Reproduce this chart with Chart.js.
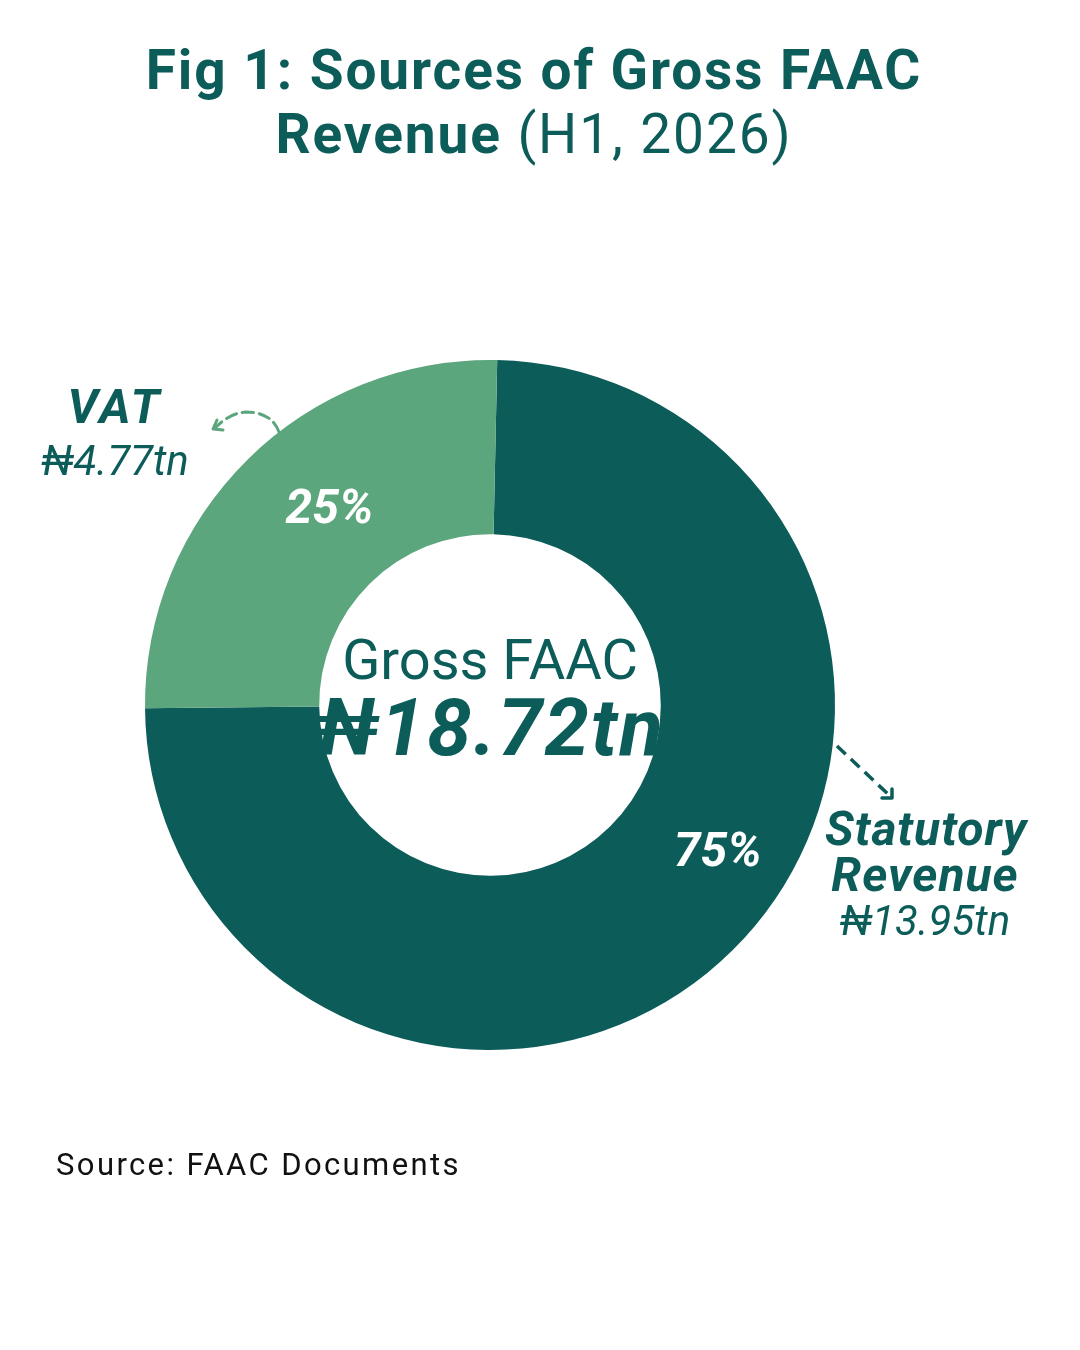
<!DOCTYPE html>
<html>
<head>
<meta charset="utf-8">
<script src="https://cdn.jsdelivr.net/npm/chart.js@4.4.1/dist/chart.umd.min.js"></script>
<style>
  html, body { margin: 0; padding: 0; background: #fff; }
  #page { position: relative; width: 1080px; height: 1350px; overflow: hidden; font-family: Roboto, "DejaVu Sans", sans-serif; color: #0c5c5a; }
  #chartCanvas { position: absolute; left: 0; top: 0; }
  .txt { position: absolute; white-space: nowrap; text-align: center; }
  #title { left: 0; width: 1068px; top: 38px; font-size: 55px; line-height: 64px; font-weight: 700; letter-spacing: 1.9px; }
  #title .light { font-weight: 400; }
  #center { left: 290px; width: 400px; top: 627px; }
  #centerLabel { font-size: 56px; line-height: 66px; font-weight: 400; }
  #centerValue { font-size: 80px; line-height: 70px; font-weight: 700; font-style: italic; letter-spacing: 2px; }
  #vatLabel { left: 15px; width: 200px; top: 384px; }
  #statLabel { left: 825px; width: 200px; top: 806px; }
  .name { font-size: 48px; line-height: 46px; font-weight: 700; font-style: italic; letter-spacing: 1px; }
  #vatLabel .name { letter-spacing: 3px; }
  .amount { font-size: 42px; line-height: 46px; font-weight: 400; font-style: italic; }
  #vatLabel .amount { margin-top: 8px; }
  #source { left: 56px; top: 1146px; font-size: 31px; color: #111; text-align: left; letter-spacing: 2.4px; }
  #arrows { position: absolute; left: 0; top: 0; }
</style>
</head>
<body>
<div id="page">
  <canvas id="chartCanvas" width="1080" height="1350"></canvas>
  <svg id="arrows" width="1080" height="1350">
    <path d="M279,432 C274,418 262,412 246,412 C233,413 224,419 215,428" fill="none" stroke="#5ca67e" stroke-width="3" stroke-dasharray="11,6" stroke-linecap="round"/>
    <path d="M223,430 L213,429 L217,420" fill="none" stroke="#5ca67e" stroke-width="3" stroke-linecap="round" stroke-linejoin="round"/>
    <path d="M837,746 L890,796" fill="none" stroke="#0c5c5a" stroke-width="3.5" stroke-dasharray="12,7"/>
    <path d="M882,798 L892,798 L892,789" fill="none" stroke="#0c5c5a" stroke-width="3.5" stroke-linecap="round" stroke-linejoin="round"/>
  </svg>
  <div id="title" class="txt">Fig 1: Sources of Gross FAAC<br>Revenue <span class="light">(H1, 2026)</span></div>
  <div id="center" class="txt">
    <div id="centerLabel">Gross FAAC</div>
    <div id="centerValue"></div>
  </div>
  <div id="vatLabel" class="txt"><div class="name"></div><div class="amount"></div></div>
  <div id="statLabel" class="txt"><div class="name"></div><div class="amount"></div></div>
  <div id="source" class="txt">Source: FAAC Documents</div>
</div>
<script>
// Data (trillion naira, H1 2026)
const sourceNames = ['Statutory Revenue', 'VAT'];
const sourceValues = [13.95, 4.77];
const sliceColors = ['#0c5c5a', '#5ca67e'];

const total = sourceValues.reduce((a, b) => a + b, 0);
const fmtNaira = v => `\u20A6${v.toFixed(2)}tn`;

document.getElementById('centerValue').textContent = fmtNaira(total);
document.querySelector('#vatLabel .name').textContent = sourceNames[1];
document.querySelector('#vatLabel .amount').textContent = fmtNaira(sourceValues[1]);
document.querySelector('#statLabel .name').innerHTML = 'Statutory<br>Revenue';
document.querySelector('#statLabel .amount').textContent = fmtNaira(sourceValues[0]);

// percent labels sit at hand-picked spots inside each ring segment
const pctSpots = [
    { angle: 122.8, radius: 271 },
    { angle: 320.6, radius: 253 }
];

const pctLabels = {
    id: 'pctLabels',
    afterDatasetsDraw(chart) {
        const ctx = chart.ctx;
        const arcs = chart.getDatasetMeta(0).data;
        ctx.save();
        ctx.fillStyle = '#ffffff';
        ctx.font = 'italic 700 48px Roboto, "DejaVu Sans", sans-serif';
        ctx.textAlign = 'center';
        ctx.textBaseline = 'middle';
        arcs.forEach((arc, i) => {
            const a = pctSpots[i].angle * Math.PI / 180;
            const x = arc.x + pctSpots[i].radius * Math.sin(a);
            const y = arc.y - pctSpots[i].radius * Math.cos(a);
            const pct = Math.round(sourceValues[i] / total * 100);
            ctx.fillText(`${pct}%`, x, y + 2);
        });
        ctx.restore();
    }
};

var ctx = document.getElementById('chartCanvas').getContext('2d');
var donut = new Chart(ctx, {
    type: 'doughnut',
    data: {
        labels: sourceNames,
        datasets: [{
            data: sourceValues,
            backgroundColor: sliceColors,
            borderWidth: 0
        }]
    },
    options: {
        responsive: false,
        animation: false,
        rotation: 1.2,
        cutout: '49.5%',
        layout: {
            padding: { left: 145, right: 245, top: 360, bottom: 300 }
        },
        plugins: {
            legend: { display: false },
            tooltip: { enabled: false }
        }
    },
    plugins: [pctLabels]
});
</script>
</body>
</html>
